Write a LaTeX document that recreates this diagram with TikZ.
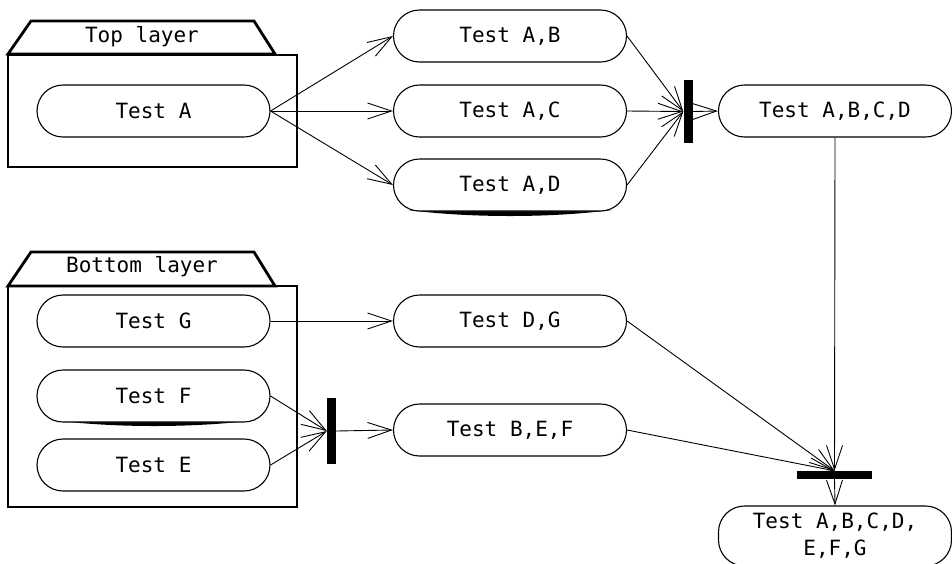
\documentclass[tikz,border=0pt]{standalone}
\usepackage{fontspec}
\setmonofont{DejaVu Sans Mono}
\usetikzlibrary{arrows.meta}
\begin{document}
\begin{tikzpicture}[x=1pt,y=-1pt,
  every node/.style={font=\ttfamily\fontsize{21}{27}\selectfont},
  act/.style={draw,line width=1.1pt,rectangle,rounded corners=26pt,minimum width=233pt,minimum height=52pt,inner sep=0pt,align=center,fill=white},
  bar/.style={fill=black,draw=none,inner sep=0pt},
  pkg/.style={draw,line width=2.8pt},
  flow/.style={line width=0.9pt,-{Straight Barb[length=24pt,width=16pt,line width=0.9pt]}},
  plain/.style={line width=0.9pt}]
\useasboundingbox (0,0) rectangle (952,563);
% packages
\draw[pkg] (8,54) -- (31,21) -- (254,21) -- (275,54) -- cycle;
\node[inner sep=0pt] (toplab) at (142,37) {Top layer};
\draw[pkg] (8,55) rectangle (297,167);
\draw[pkg] (8,286) -- (31,252) -- (254,252) -- (275,286) -- cycle;
\node[inner sep=0pt] (botlab) at (142,267) {Bottom layer};
\draw[pkg] (8,286) rectangle (297,507);
% shadows
\fill (408,210) .. controls (470,218) and (550,218) .. (612,210) -- cycle;
\fill (52,420) .. controls (114,428) and (194,428) .. (256,420) -- cycle;
% activities
\node[act] (a) at (153.5,111) {Test A};
\node[act] (ab) at (510,36) {Test A,B};
\node[act] (ac) at (510,111) {Test A,C};
\node[act] (ad) at (510,185) {Test A,D};
\node[act] (abcd) at (835,111) {Test A,B,C,D};
\node[act] (g) at (153.5,321) {Test G};
\node[act] (dg) at (510,321) {Test D,G};
\node[act] (f) at (153.5,396) {Test F};
\node[act] (e) at (153.5,465) {Test E};
\node[act] (bef) at (510,430) {Test B,E,F};
\node[act,minimum height=60pt] (all) at (835,536) {Test A,B,C,D,\\E,F,G};
% bars
\node[bar,minimum width=9pt,minimum height=63pt] (b1) at (688,111.5) {};
\node[bar,minimum width=9pt,minimum height=66pt] (b2) at (331.5,431) {};
\node[bar,minimum width=75pt,minimum height=8pt] (b3) at (834.5,475) {};
% connectors
\draw[flow] (a.east) -- (ab.west);
\draw[flow] (a.east) -- (ac.west);
\draw[flow] (a.east) -- (ad.west);
\draw[flow] (ab.east) -- (b1.west);
\draw[flow] (ac.east) -- (b1.west);
\draw[flow] (ad.east) -- (b1.west);
\draw[flow] (b1.east) -- (abcd.west);
\draw[flow] (g.east) -- (dg.west);
\draw[flow] (f.east) -- (b2.west);
\draw[flow] (e.east) -- (b2.west);
\draw[flow] (b2.east) -- (bef.west);
\draw[flow] (abcd.south) -- (b3.north);
\draw[flow] (dg.east) -- (b3.north);
\draw[flow] (bef.east) -- (b3.north);
\draw[flow] (b3.south) -- (all.north);
\end{tikzpicture}
\end{document}
